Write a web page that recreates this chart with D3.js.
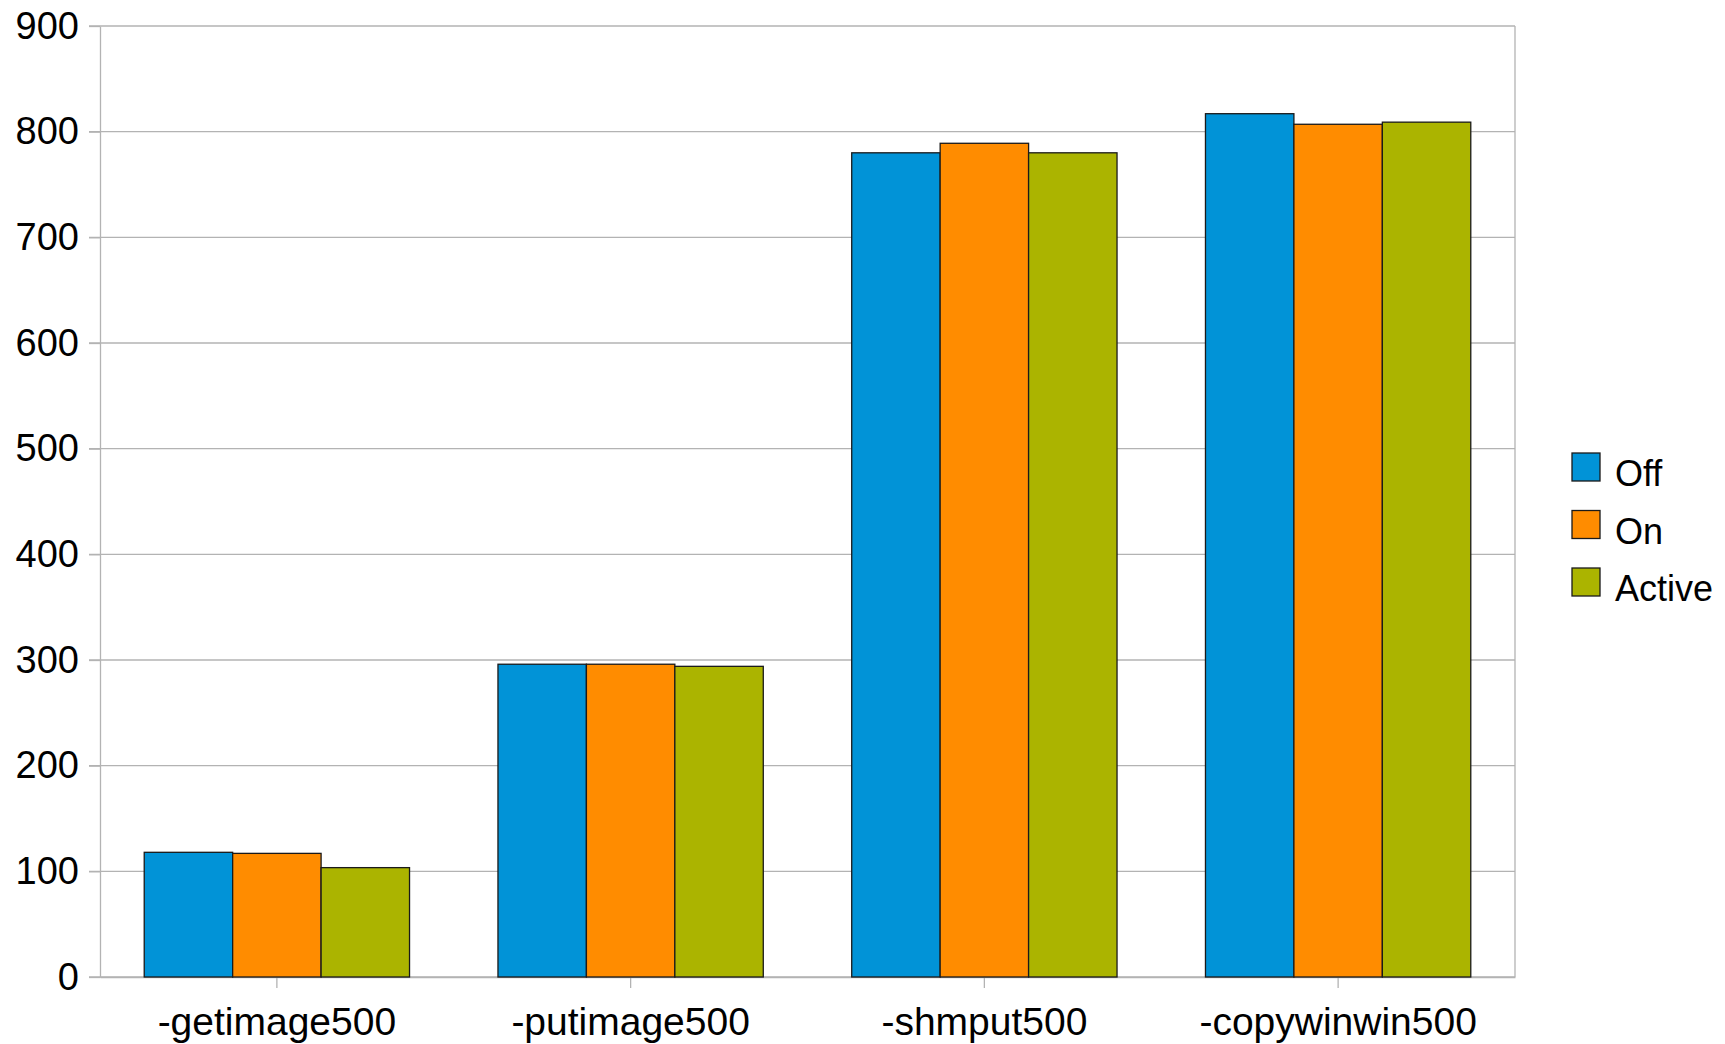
<!DOCTYPE html>
<html><head><meta charset="utf-8">
<script src="https://cdn.jsdelivr.net/npm/d3@7"></script>
<style>body{margin:0;background:#fff}svg{display:block;font-family:"Liberation Sans",Arial,sans-serif}</style>
</head><body>
<svg id="c" width="1725" height="1044"></svg>
<script>
const categories = ["-getimage500", "-putimage500", "-shmput500", "-copywinwin500"];
const seriesNames = ["Off", "On", "Active"];
const offValues = [118, 296, 780, 817];
const onValues = [117, 296, 789, 807];
const activeValues = [103.5, 294, 780, 809];
const yTicks = [0, 100, 200, 300, 400, 500, 600, 700, 800, 900];
const colors = ["#0193d7", "#ff8c00", "#abb400"];

const seriesValues = [offValues, onValues, activeValues];
const svg = d3.select("#c");
const L = 100, R = 1515, T = 26, B = 977;

const x0 = d3.scaleBand().domain(categories).range([L, R]).paddingInner(0.25).paddingOuter(0.125);
const x1 = d3.scaleBand().domain(seriesNames).range([0, x0.bandwidth()]);
const y = d3.scaleLinear().domain([0, 900]).range([B, T]);
const xc = d3.scaleBand().domain(categories).range([L, R]);

// gridlines
svg.append("g").selectAll("line").data(yTicks).join("line")
  .attr("x1", L - 11).attr("x2", R).attr("y1", d => y(d)).attr("y2", d => y(d))
  .attr("stroke", "#b3b3b3").attr("stroke-width", 1.3);

// right border
svg.append("line").attr("x1", R).attr("x2", R).attr("y1", T).attr("y2", B).attr("stroke", "#b3b3b3").attr("stroke-width", 1.3);

// y axis
const ya = svg.append("g").attr("transform", `translate(${L},0)`)
  .call(d3.axisLeft(y).tickValues(yTicks).tickSize(11).tickSizeOuter(0).tickPadding(10));
ya.select(".domain").attr("stroke", "#b3b3b3").attr("stroke-width", 1.3);
ya.selectAll(".tick line").attr("stroke", "#b3b3b3").attr("stroke-width", 1.3);
ya.selectAll("text").attr("font-size", 38).attr("font-family", "Liberation Sans, Arial, sans-serif").attr("fill", "#000");

// x axis
const xa = svg.append("g").attr("transform", `translate(0,${B})`)
  .call(d3.axisBottom(xc).tickSize(11).tickSizeOuter(0).tickPadding(19));
xa.select(".domain").attr("stroke", "#b3b3b3").attr("stroke-width", 1.3);
xa.selectAll(".tick line").attr("stroke", "#b3b3b3").attr("stroke-width", 1.3);
xa.selectAll("text").attr("font-size", 39).attr("font-family", "Liberation Sans, Arial, sans-serif").attr("fill", "#000");

// bars
const groups = svg.append("g").selectAll("g").data(categories).join("g")
  .attr("transform", d => `translate(${x0(d)},0)`);
groups.selectAll("rect").data((d, i) => seriesNames.map((s, j) => ({s, j, v: seriesValues[j][i]}))).join("rect")
  .attr("x", d => x1(d.s)).attr("width", x1.bandwidth())
  .attr("y", d => y(d.v)).attr("height", d => B - y(d.v))
  .attr("fill", d => colors[d.j]).attr("stroke", "#1a1a1a").attr("stroke-width", 1.3);

// legend
const lg = svg.append("g").attr("transform", "translate(1572,453)");
const li = lg.selectAll("g").data(seriesNames).join("g").attr("transform", (d, i) => `translate(0,${i * 57.5})`);
li.append("rect").attr("width", 28).attr("height", 28).attr("fill", (d, i) => colors[i]).attr("stroke", "#1a1a1a").attr("stroke-width", 1.3);
li.append("text").attr("x", 43).attr("y", 33).attr("font-size", 36).attr("fill", "#000").text(d => d);
</script>
</body></html>
